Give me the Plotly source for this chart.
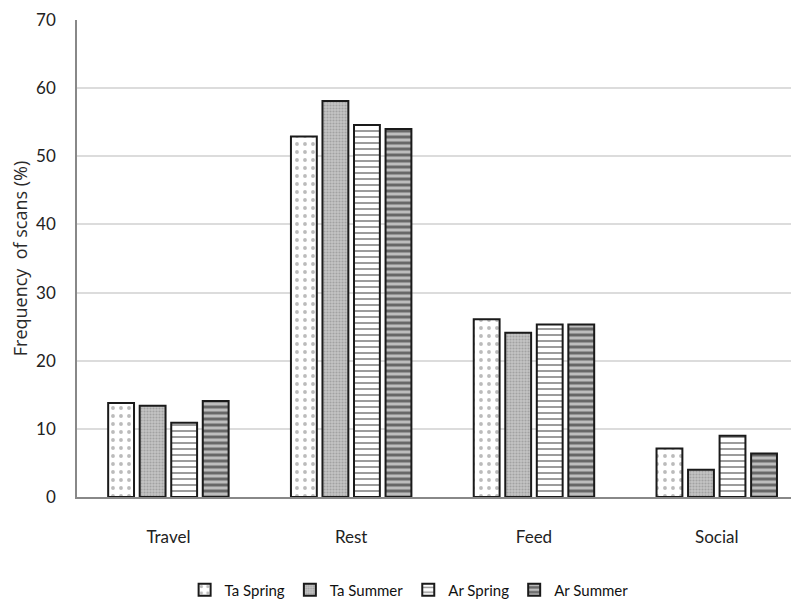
import plotly.graph_objects as go

categories = ["Travel", "Rest", "Feed", "Social"]
series_names = ["Ta Spring", "Ta Summer", "Ar Spring", "Ar Summer"]
ta_spring = [13.8, 52.9, 26.1, 7.1]
ta_summer = [13.4, 58.1, 24.1, 4.0]
ar_spring = [10.9, 54.6, 25.3, 9.0]
ar_summer = [14.1, 54.0, 25.3, 6.4]
y_ticks = [0, 10, 20, 30, 40, 50, 60, 70]

values = [ta_spring, ta_summer, ar_spring, ar_summer]
patterns = [
    dict(shape=".", fgcolor="#777777", bgcolor="white", size=8, solidity=0.18),
    dict(shape=".", fgcolor="#808080", bgcolor="#c4c4c4", size=3, solidity=0.4),
    dict(shape="-", fgcolor="#222222", bgcolor="white", size=6, solidity=0.3),
    dict(shape="-", fgcolor="#111111", bgcolor="#bdbdbd", size=6, solidity=0.5),
]

fig = go.Figure()
for name, vals, pat in zip(series_names, values, patterns):
    fig.add_trace(go.Bar(
        x=categories, y=vals, name=name,
        marker=dict(color="white", pattern=pat,
                    line=dict(color="#1a1a1a", width=2)),
    ))

font_fam = "Lato, sans-serif"
fig.update_layout(
    width=791, height=595,
    margin=dict(l=69, r=0, t=12, b=106, autoexpand=False),
    paper_bgcolor="white", plot_bgcolor="white",
    barmode="group", bargap=0.31, bargroupgap=0.18,
    font=dict(family=font_fam, color="#222222", size=16),
    legend=dict(orientation="h", x=0.46, xanchor="center", y=-0.195, yanchor="middle",
                font=dict(size=15, color="#111111"), itemwidth=30, traceorder="normal"),
    showlegend=True,
)
fig.update_xaxes(
    range=[-0.5, 3.45], showgrid=False, showline=True, linecolor="#888888", linewidth=1.5,
    ticks="", ticklabelstandoff=24, tickfont=dict(size=17), automargin=False,
)
fig.update_yaxes(
    range=[0, 70], tickvals=y_ticks, showgrid=True, gridcolor="#dcdcdc", gridwidth=1.5,
    showline=True, linecolor="#888888", linewidth=1.5, ticks="", ticklabelstandoff=16,
    tickfont=dict(size=17), zeroline=False, automargin=False,
    title=dict(text="Frequency  of scans (%)",
               font=dict(family="Open Sans, sans-serif", size=18, color="#2a2a2a"), standoff=20),
)
fig.write_html("out.html")
